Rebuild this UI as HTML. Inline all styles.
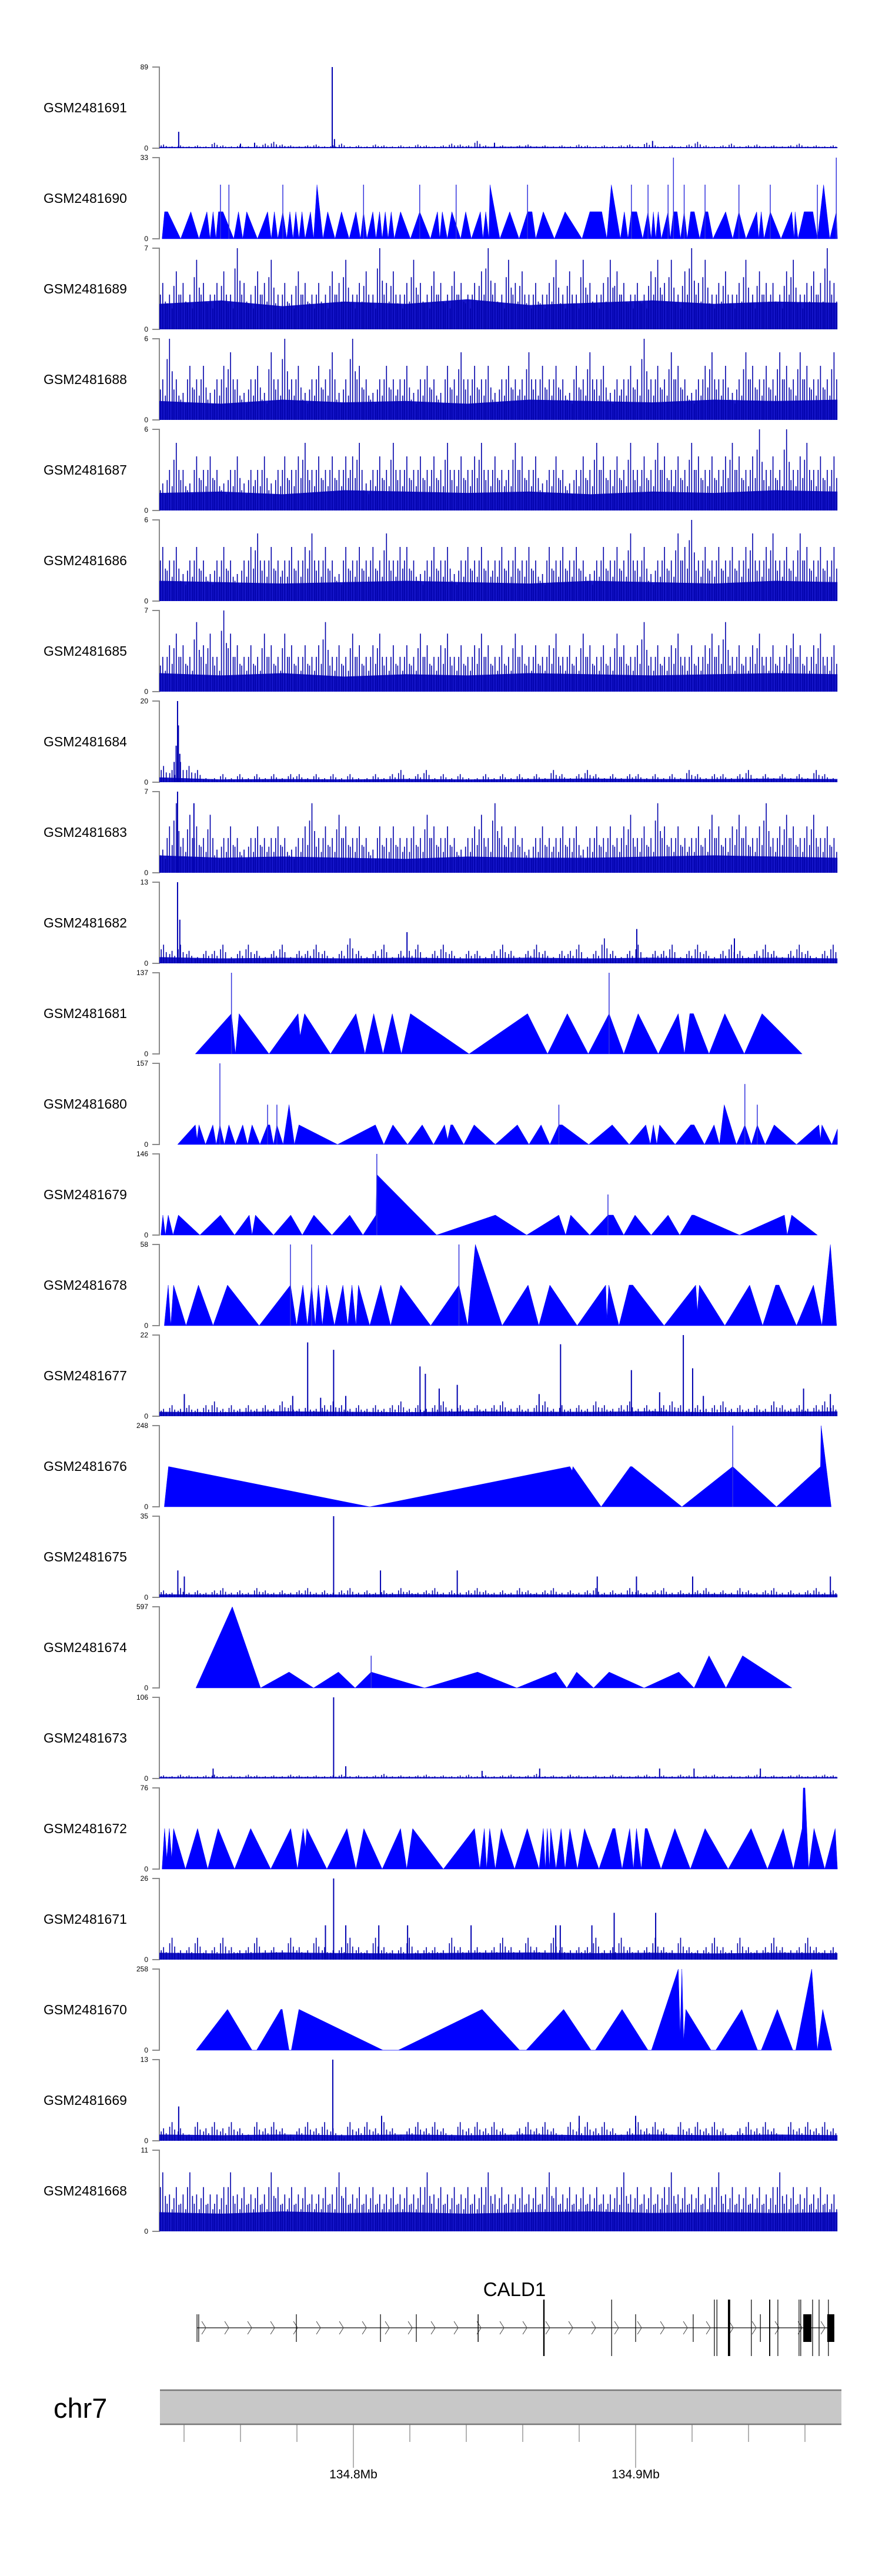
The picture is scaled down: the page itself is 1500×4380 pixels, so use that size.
<!DOCTYPE html>
<html><head><meta charset="utf-8"><title>CALD1 coverage tracks</title>
<style>
html,body{margin:0;padding:0;background:#fff;}
svg{display:block;font-family:"Liberation Sans",Arial,sans-serif;}
</style></head>
<body>
<svg id="chart" width="1500" height="4380" viewBox="0 0 1500 4380" xmlns="http://www.w3.org/2000/svg">
<rect x="0" y="0" width="1500" height="4380" fill="#fff"/>
<g id="tracks"></g>
<g id="gene"></g>
<g id="ideo"></g>
</svg>
<script>
// ---------- domain (kb offset from 134.7 Mb) ----------
const domainStart = 31.25;
const domainEnd = 271.5;
const axisTickKb = [40,60,80,100,120,140,160,180,200,220,240,260];
const axisMajorKb = [100,200];
const axisMajorLabels = ["134.8Mb","134.9Mb"];

// ---------- track names and maxima ----------
const trackNames = ["GSM2481691","GSM2481690","GSM2481689","GSM2481688","GSM2481687","GSM2481686","GSM2481685","GSM2481684","GSM2481683","GSM2481682","GSM2481681","GSM2481680","GSM2481679","GSM2481678","GSM2481677","GSM2481676","GSM2481675","GSM2481674","GSM2481673","GSM2481672","GSM2481671","GSM2481670","GSM2481669","GSM2481668"];
const trackMax = [89,33,7,6,6,6,7,20,7,13,137,157,146,58,22,248,35,597,106,76,26,258,13,11];

// ---------- noise-type tracks ----------
const t1691_base = [1.5,1.2,1.5,1.3,1.2,1.4,1.6,1.2,1.3,1.2,1.5,1.3];
const t1691_vals = [4,2,3,2,3,2,6,3,2,3,2,3,5,7,4,3,2,3,4,2,3,5,2,3,2,4,3,2,3,2,4,3,2,3,5,4,3,8,3,2,3,2,3,4,2,3,2,3,2,4,3,2,3,2,3,4,2,6,3,2,3,2,4,7,3,2,3,5,2,3,4,2,3,2,3,5,2,3,2,3];
const t1691_spikePos = [38.1,92.5,93.3,206,65,60,150];
const t1691_spikeVal = [18,89,10,8,6,5,6];

const t1689_base = [2.2,2.5,2.0,2.4,2.2,2.6,2.1,2.3,2.5,2.2,2.4,2.3];
const t1689_vals = [4,3,5,4,3,6,4,3,4,5,3,7,4,3,5,4,6,3,4,3,5,4,3,4,3,5,4,6,3,4,5,3,7,4,5,3,4,6,4,3,5,4,3,5,4,3,4,5,7,4,3,6,4,5,3,4,3,4,6,3,5,3,6,4,3,4,6,5,4,3,4,3,5,6,4,6,3,5,7,4,6,3,4,5,3,4,6,3,5,4,4,3,5,6,3,4,5,4,7,4];
const t1689_spikePos = [];
const t1689_spikeVal = [];

const t1688_base = [1.4,1.2,1.5,1.3,1.4,1.2,1.5,1.4,1.3,1.5,1.4,1.5];
const t1688_vals = [3,6,3,2,4,3,4,2,3,4,5,3,2,3,4,2,5,3,6,3,4,2,3,4,3,5,2,3,6,4,3,2,3,4,3,3,4,2,3,4,3,2,4,3,5,3,4,3,4,2,3,4,3,3,5,3,4,3,4,3,2,4,3,5,3,4,2,3,3,4,3,6,3,4,3,5,4,3,2,3,4,5,3,4,2,3,5,4,3,4,3,5,4,3,5,4,3,4,3,5];
const t1688_spikePos = [];
const t1688_spikeVal = [];

const t1687_base = [1.3,1.4,1.2,1.5,1.4,1.3,1.4,1.2,1.4,1.3,1.5,1.4];
const t1687_vals = [2,3,5,3,2,4,3,4,3,2,3,4,2,3,3,4,2,3,4,3,4,5,3,4,3,4,3,4,4,5,2,3,4,3,5,3,4,3,4,3,4,3,5,3,4,3,4,5,3,4,3,3,5,4,3,4,2,3,4,3,2,3,4,3,5,4,3,4,3,5,3,4,3,5,4,3,4,3,5,4,3,4,3,4,5,4,3,4,6,3,4,3,6,3,4,5,3,4,3,4];
const t1687_spikePos = [];
const t1687_spikeVal = [];

const t1686_base = [1.5,1.4,1.3,1.4,1.5,1.4,1.3,1.5,1.4,1.3,1.5,1.4];
const t1686_vals = [4,3,4,2,3,4,3,2,3,4,3,2,3,4,5,3,4,3,3,4,3,4,5,3,4,3,2,4,3,4,3,4,3,5,3,4,4,3,2,3,4,3,4,2,3,4,3,4,3,3,4,3,4,3,4,3,2,4,3,4,3,4,3,2,3,4,3,4,3,5,3,4,2,3,4,3,5,4,6,3,4,3,4,3,4,3,4,5,3,4,5,3,4,3,5,4,3,4,3,4];
const t1686_spikePos = [];
const t1686_spikeVal = [];

const t1685_base = [1.6,1.4,1.6,1.3,1.5,1.4,1.6,1.5,1.4,1.5,1.6,1.5];
const t1685_vals = [3,4,5,4,3,6,4,5,3,7,5,4,3,4,3,5,4,3,5,4,3,4,3,4,6,3,4,3,5,4,3,4,5,3,4,3,4,3,5,4,3,4,5,3,4,3,4,5,4,3,4,3,5,4,3,4,3,4,5,3,4,3,5,4,3,4,3,5,4,3,4,6,3,4,3,4,5,3,4,3,4,5,4,6,3,4,3,4,5,3,4,3,4,5,4,3,4,5,3,4];
const t1685_spikePos = [];
const t1685_spikeVal = [];

const t1684_base = [1.2,0.7,0.8,0.7,0.8,0.7,0.8,0.9,0.8,0.8,0.9,0.8];
const t1684_vals = [4,3,5,4,3,1,1,2,1,2,1,2,1,2,1,2,2,1,2,1,2,1,2,1,1,2,1,2,3,1,2,3,1,2,1,2,1,1,2,1,2,1,2,1,2,1,3,2,1,2,3,2,1,2,1,2,2,1,2,1,2,1,3,2,1,2,2,1,2,3,1,2,1,2,1,2,1,3,2,1];
const t1684_spikePos = [36.5,37.2,37.7,38.0,38.5];
const t1684_spikeVal = [5,9,20,14,7];

const t1683_base = [1.5,1.3,1.4,1.3,1.2,1.4,1.3,1.3,1.4,1.5,1.4,1.3];
const t1683_vals = [2,4,6,3,5,4,3,5,2,3,4,3,2,3,4,3,3,4,3,2,3,4,6,3,4,3,5,4,3,4,3,2,4,3,4,3,3,4,3,5,4,3,4,3,2,3,4,5,3,6,4,3,4,3,2,3,4,3,3,4,3,4,2,3,4,3,4,3,4,5,3,4,3,6,4,3,4,3,3,4,3,5,4,3,4,5,4,3,4,6,3,4,5,4,3,4,5,3,4,3];
const t1683_spikePos = [37.7,43.5];
const t1683_spikeVal = [7,6];

const t1682_base = [1.0,0.8,0.9,0.8,0.9,0.8,0.9,0.8,0.9,0.8,0.9,0.8];
const t1682_vals = [3,2,3,2,1,2,2,3,1,2,3,2,1,2,3,1,2,2,3,2,1,2,4,2,1,2,3,1,2,2,3,1,2,3,2,1,2,2,1,2,3,2,1,2,3,2,1,2,2,3,1,2,4,2,1,2,3,1,2,2,3,1,2,3,2,1,2,3,2,1,2,3,2,1,2,3,2,1,2,3];
const t1682_spikePos = [37.7,38.5,119,200.4,235];
const t1682_spikeVal = [13,7,5,5.5,4];

const t1677_base = [1.2,1.1,1.3,1.2,1.1,1.3,1.2,1.2,1.3,1.1,1.2,1.3];
const t1677_vals = [2,3,2,3,2,3,4,2,3,2,3,2,3,2,4,3,2,3,2,3,4,3,2,3,2,3,2,3,4,2,3,2,3,4,2,3,2,3,2,3,4,2,3,2,3,4,2,3,2,3,2,4,3,2,3,4,2,3,2,3,4,3,2,3,2,3,4,2,3,2,3,2,4,3,2,3,2,3,4,3];
const t1677_spikePos = [40.1,78.5,83.8,88.4,93.0,97.3,123.6,125.5,130.4,136.8,165.8,173.4,198.5,208.5,216.9,220.2,224.0,259.5,269.0];
const t1677_spikeVal = [6,5.5,20,5,18,5.5,13.5,11.5,7.5,8.5,6,19.5,12.5,6.5,22,13,5.5,7.5,6];

const t1675_base = [1.3,1.2,1.3,1.2,1.4,1.2,1.3,1.2,1.3,1.4,1.2,1.3];
const t1675_vals = [3,2,4,2,3,2,3,4,2,3,2,4,3,2,3,2,3,4,2,3,2,3,4,2,3,2,3,2,4,3,2,3,4,2,3,2,3,4,3,2,3,2,4,3,2,3,4,2,3,2,3,4,2,3,2,4,3,2,3,4,2,3,2,3,4,2,3,2,4,3,2,3,4,2,3,2,3,4,2,3];
const t1675_spikePos = [37.8,40.1,93.0,109.6,136.8,186.4,200.3,220.2,269.0];
const t1675_spikeVal = [11.6,9,35,11.6,11.6,9,9,9,9];

const t1673_base = [2.0,1.8,2.0,1.9,2.0,1.8,2.0,1.9,2.0,1.9,2.0,1.9];
const t1673_vals = [4,3,5,4,3,4,5,3,4,3,5,4,3,4,3,5,4,3,4,3,4,5,3,4,3,4,6,3,4,3,4,5,3,4,3,4,5,3,4,3,4,5,3,4,6,3,4,3,5,4,3,4,3,5,4,3,4,5,3,4,3,5,4,3,4,5,3,4,3,4,5,3,4,3,4,5,3,4,5,4];
const t1673_spikePos = [93.0,50.3,97.3,145.6,166.0,208.5,220.7,244.2];
const t1673_spikeVal = [106,13,16,10,13,13,13,13];

const t1671_base = [2.2,2.0,2.3,2.1,2.0,2.2,2.3,2.1,2.2,2.0,2.2,2.1];
const t1671_vals = [4,7,3,4,7,3,4,7,4,3,4,7,3,4,3,7,4,3,7,4,3,4,7,4,3,7,4,3,4,7,3,4,4,3,7,4,3,4,3,4,7,4,3,7,4,3,7,4,3,4,4,7,3,4,7,4,3,4,7,4,3,7,4,3,4,7,4,3,7,4,3,4,7,4,3,4,7,4,3,4];
const t1671_spikePos = [93.0,90.1,97.3,109.0,119.2,141.7,171.7,173.3,184.5,192.4,207.1];
const t1671_spikeVal = [26,11,11,11,11,11,11,11,11,15,15];

const t1669_base = [1.0,0.9,1.0,0.9,1.0,0.9,1.0,0.9,1.0,0.9,1.0,0.9];
const t1669_vals = [2,3,2,1,3,2,3,2,3,2,1,3,2,3,2,1,2,3,2,3,2,1,3,2,3,2,3,2,1,2,3,2,3,2,1,3,2,3,2,3,2,1,2,3,2,3,2,1,3,2,3,2,3,2,1,2,3,2,3,2,1,3,2,3,2,3,2,1,2,3,2,3,2,1,3,2,3,2,3,2];
const t1669_spikePos = [38.1,92.7,110,180,200];
const t1669_spikeVal = [5.5,13,4,4,4];

const t1668_base = [2.6,2.4,2.7,2.5,2.6,2.4,2.6,2.7,2.5,2.6,2.5,2.6];
const t1668_vals = [8,5,6,5,8,5,6,5,5,6,8,5,6,5,6,5,8,6,5,6,5,6,5,5,6,5,8,6,5,6,5,6,5,5,6,5,6,5,6,8,5,6,5,6,5,6,5,6,8,5,6,5,5,6,5,6,5,8,6,5,6,5,6,5,6,5,5,6,8,5,6,5,6,5,6,8,5,6,5,6,5,6,8,5,6,5,6,5,6,5,6,8,5,6,5,6,5,6,5,5];
const t1668_spikePos = [];
const t1668_spikeVal = [];

// ---------- triangle-type tracks (vertex positions in kb, values) ----------
const t1690_pos = [32.2,33.1,34.2,38.8,42.4,45.3,48.1,49.2,50.3,51.3,52.2,53.8,57.6,59.3,60.8,62.2,66.0,69.6,70.9,72.0,73.2,75.0,76.4,77.5,78.6,79.6,80.7,81.8,82.9,84.8,85.9,87.1,89.2,90.9,93.5,95.8,98.5,100.9,102.5,103.6,104.8,106.9,108.0,109.3,110.2,111.3,112.3,113.4,114.5,116.7,120.2,123.5,127.3,129.8,130.6,131.5,133.3,134.9,138.0,139.8,141.8,145.0,145.9,146.9,148.0,148.4,151.9,155.4,158.7,161.7,163.3,164.6,167.3,171.2,175.0,181.0,183.8,188.0,189.8,191.4,194.6,196.0,197.3,198.5,200.4,202.5,204.4,205.5,206.3,207.1,208.0,209.1,211.5,212.3,213.4,214.7,215.9,217.2,218.3,219.5,220.8,222.7,224.6,225.6,227.4,231.9,234.4,236.6,239.1,242.9,243.6,244.5,245.5,247.7,251.5,255.3,256.2,256.5,257.5,259.7,262.8,264.4,266.6,268.8,271.1,271.5];
const t1690_val = [0,11,11,0,11,0,11,0,11,0,11,11,0,11,0,11,0,11,0,11,0,11,0,11,0,11,0,11,0,11,0,22,0,11,0,11,0,11,0,11,0,11,0,11,0,11,0,11,0,11,0,11,0,11,0,11,0,11,0,11,0,11,0,11,0,22,0,11,0,11,11,0,11,0,11,0,11,11,0,22,0,11,0,11,11,0,11,0,11,0,11,0,11,0,11,11,0,11,0,11,11,0,11,11,0,11,0,11,0,11,0,11,0,11,0,11,0,11,0,11,11,0,22,0,11,0];
const t1690_spikePos = [52.9,55.9,75.0,103.6,123.5,136.4,161.7,198.5,204.4,211.5,213.4,217.2,224.6,236.6,247.7,264.4,271.1];
const t1690_spikeVal = [22,22,22,22,22,22,22,22,22,22,33,22,22,22,22,22,33];

const t1681_pos = [44.0,56.8,58.2,59.5,70.1,80.4,81.1,82.7,91.9,100.9,104.1,107.2,110.5,113.8,117.0,120.2,141.0,161.7,168.8,175.8,183.2,190.6,195.8,200.9,208.0,215.1,217.3,219.2,220.5,226.0,231.6,238.5,244.8,259.0];
const t1681_val = [0,68,0,68,0,68,30,68,0,68,0,68,0,68,0,68,0,68,0,68,0,68,0,68,0,68,0,68,68,0,68,0,68,0];
const t1681_spikePos = [56.8,190.6];
const t1681_spikeVal = [137,137];

const t1680_pos = [37.7,44.0,44.6,45.3,47.6,50.2,51.4,52.7,54.3,55.9,58.2,60.8,62.5,64.1,66.9,69.6,70.4,71.7,72.9,75.1,77.2,79.1,80.7,94.4,107.8,110.8,114.0,119.2,124.4,128.4,132.3,133.4,134.5,135.2,139.1,142.8,150.3,158.1,162.2,166.5,169.6,172.8,174.0,183.4,191.7,197.7,203.6,205.2,206.3,207.5,208.5,214.0,219.5,220.7,224.4,227.8,229.7,231.4,235.7,238.7,241.0,243.1,245.9,249.1,257.0,264.9,265.5,266.0,269.5,271.5];
const t1680_val = [0,38,10,38,0,38,0,38,0,38,0,38,0,38,0,38,38,0,38,0,77,0,38,0,38,0,38,0,38,0,38,10,38,38,0,38,0,38,0,38,0,38,38,0,38,0,38,0,38,0,38,0,38,38,0,38,0,77,0,38,0,38,0,38,0,38,10,38,0,30];
const t1680_spikePos = [52.7,69.6,72.9,172.8,238.7,243.1];
const t1680_spikeVal = [157,77,77,77,117,77];

const t1679_pos = [31.8,32.5,33.4,34.4,36.1,38.0,45.6,52.9,57.9,63.1,64.1,65.3,71.7,77.8,81.9,86.0,92.4,98.7,103.4,108.0,108.3,129.5,150.3,161.4,172.8,175.2,177.0,183.7,190.2,192.1,195.8,199.8,205.5,211.5,215.6,219.9,220.7,236.8,252.7,253.7,255.3,264.4];
const t1679_val = [0,36,0,36,0,36,0,36,0,36,0,36,0,36,0,36,0,36,0,36,109,0,36,0,36,0,36,0,36,36,0,36,0,36,0,36,36,0,36,0,36,0];
const t1679_spikePos = [108.3,190.2];
const t1679_spikeVal = [146,73];

const t1678_pos = [33.0,34.4,35.3,36.3,40.7,45.1,50.3,55.4,66.6,77.7,79.9,82.1,83.7,85.2,86.5,87.6,89.0,90.5,93.3,96.3,98.0,99.5,100.9,101.8,105.8,109.7,113.2,116.8,127.4,137.4,140.5,143.2,152.7,161.9,165.7,169.6,179.3,189.4,189.8,190.5,194.1,197.7,199.0,210.1,221.3,221.9,222.6,231.6,240.4,245.0,249.6,250.8,257.0,263.0,266.0,269.0,271.2];
const t1678_val = [0,29,0,29,0,29,0,29,0,29,0,29,0,29,0,29,0,29,0,29,0,29,0,29,0,29,0,29,0,29,0,58,0,29,0,29,0,29,5,29,0,29,29,0,29,10,29,0,29,0,29,29,0,29,0,58,0];
const t1678_spikePos = [77.7,85.2,137.4];
const t1678_spikeVal = [58,58,58];

const t1676_pos = [33.0,34.5,105.8,176.7,177.5,177.8,187.8,198.1,198.7,216.4,234.4,249.9,265.5,265.7,269.3];
const t1676_val = [0,123,0,123,110,123,0,123,123,0,123,0,123,248,0];
const t1676_spikePos = [234.4];
const t1676_spikeVal = [248];

const t1674_pos = [44.2,57.1,67.1,77.2,85.9,94.7,100.6,106.3,125.2,144.0,157.9,171.7,175.6,179.1,185.1,190.6,203.0,215.3,220.7,226.0,232.0,237.9,255.4];
const t1674_val = [0,597,0,117,0,117,0,117,0,117,0,117,0,117,0,117,0,117,0,237,0,237,0];
const t1674_spikePos = [106.3];
const t1674_spikeVal = [237];

const t1672_pos = [32.2,33.1,33.9,34.8,35.6,36.3,40.5,44.8,48.4,52.1,57.9,63.6,70.7,77.8,80.2,82.2,83.0,83.5,90.6,97.7,100.9,103.7,110.2,116.7,118.9,121.0,131.9,142.9,144.8,146.4,147.2,148.3,150.3,152.4,157.1,161.6,165.8,167.3,168.0,168.7,169.5,169.9,171.8,173.6,175.0,176.7,179.4,181.9,187.0,191.9,192.7,195.2,197.9,199.2,200.3,202.0,203.4,204.1,209.0,213.9,219.4,224.6,232.8,240.9,246.7,252.3,255.9,259.0,259.4,260.0,261.3,263.2,267.0,270.7,272.0];
const t1672_val = [0,38,10,38,10,38,0,38,0,38,0,38,0,38,0,38,20,38,0,38,0,38,0,38,0,38,0,38,0,38,0,38,0,38,0,38,0,38,0,38,0,38,0,38,0,38,0,38,0,38,38,0,38,0,38,0,38,38,0,38,0,38,0,38,0,38,0,38,76,76,0,38,0,38,0];
const t1672_spikePos = [];
const t1672_spikeVal = [];

const t1670_pos = [44.3,55.4,64.1,65.7,74.3,74.8,77.2,78.0,80.7,110.5,115.9,145.6,158.9,161.2,174.5,184.2,185.7,195.2,204.4,205.6,215.1,215.8,216.4,217.0,217.8,226.7,228.4,237.6,243.2,244.5,250.2,255.7,256.7,262.4,264.4,266.3,269.5];
const t1670_val = [0,130,0,0,130,130,0,0,130,0,0,130,0,0,130,0,0,130,0,0,258,50,258,30,130,0,0,130,0,0,130,0,0,258,0,130,0];
const t1670_spikePos = [];
const t1670_spikeVal = [];

// ---------- gene model (CALD1), exon positions in kb ----------
const geneStartKb = 44.6;
const geneEndKb = 270.4;
const exonKb = [44.6,45.2,79.8,109.6,122.3,144.2,167.5,191.5,200.0,220.4,227.9,228.8,233.1,241.0,244.2,247.5,250.4,257.9,258.5,262.7,265.0,268.3];
const exonTall = [0,0,0,0,0,0,1,1,0,0,1,1,1,1,0,1,1,1,1,1,1,1];
const exonWidthKb = [0.2,0.2,0.25,0.2,0.2,0.3,0.5,0.25,0.25,0.2,0.2,0.2,0.8,0.2,0.2,0.4,0.25,0.2,0.2,0.2,0.2,0.2];
const blockStartKb = [259.4,267.9];
const blockEndKb = [262.3,270.4];

// ---------- rendering ----------
const NS = "http://www.w3.org/2000/svg";
function xs(kb){ return 601 + (kb - 100) * 4.8; }
const X0 = xs(domainStart), X1 = xs(domainEnd);
function mk(tag, attrs, parent){
  const e = document.createElementNS(NS, tag);
  for (const k in attrs) e.setAttribute(k, attrs[k]);
  parent.appendChild(e);
  return e;
}
const tracksG = document.getElementById('tracks');

const noiseData = {
  "GSM2481691":[t1691_base,t1691_vals,t1691_spikePos,t1691_spikeVal],
  "GSM2481689":[t1689_base,t1689_vals,t1689_spikePos,t1689_spikeVal],
  "GSM2481688":[t1688_base,t1688_vals,t1688_spikePos,t1688_spikeVal],
  "GSM2481687":[t1687_base,t1687_vals,t1687_spikePos,t1687_spikeVal],
  "GSM2481686":[t1686_base,t1686_vals,t1686_spikePos,t1686_spikeVal],
  "GSM2481685":[t1685_base,t1685_vals,t1685_spikePos,t1685_spikeVal],
  "GSM2481684":[t1684_base,t1684_vals,t1684_spikePos,t1684_spikeVal],
  "GSM2481683":[t1683_base,t1683_vals,t1683_spikePos,t1683_spikeVal],
  "GSM2481682":[t1682_base,t1682_vals,t1682_spikePos,t1682_spikeVal],
  "GSM2481677":[t1677_base,t1677_vals,t1677_spikePos,t1677_spikeVal],
  "GSM2481675":[t1675_base,t1675_vals,t1675_spikePos,t1675_spikeVal],
  "GSM2481673":[t1673_base,t1673_vals,t1673_spikePos,t1673_spikeVal],
  "GSM2481671":[t1671_base,t1671_vals,t1671_spikePos,t1671_spikeVal],
  "GSM2481669":[t1669_base,t1669_vals,t1669_spikePos,t1669_spikeVal],
  "GSM2481668":[t1668_base,t1668_vals,t1668_spikePos,t1668_spikeVal]
};
const triData = {
  "GSM2481690":[t1690_pos,t1690_val,t1690_spikePos,t1690_spikeVal],
  "GSM2481681":[t1681_pos,t1681_val,t1681_spikePos,t1681_spikeVal],
  "GSM2481680":[t1680_pos,t1680_val,t1680_spikePos,t1680_spikeVal],
  "GSM2481679":[t1679_pos,t1679_val,t1679_spikePos,t1679_spikeVal],
  "GSM2481678":[t1678_pos,t1678_val,t1678_spikePos,t1678_spikeVal],
  "GSM2481676":[t1676_pos,t1676_val,t1676_spikePos,t1676_spikeVal],
  "GSM2481674":[t1674_pos,t1674_val,t1674_spikePos,t1674_spikeVal],
  "GSM2481672":[t1672_pos,t1672_val,t1672_spikePos,t1672_spikeVal],
  "GSM2481670":[t1670_pos,t1670_val,t1670_spikePos,t1670_spikeVal]
};

trackNames.forEach(function(name, i){
  const top = 114 + 154 * i, bottom = top + 138, h = 138, max = trackMax[i];
  const ys = function(v){ return bottom - Math.min(v, max) / max * h; };
  const g = mk('g', {}, tracksG);
  
  

  const lab = mk('text', {x:74, y:(top+bottom)/2 + 8, 'font-size':23, fill:'#000'}, g);
  
  
  lab.textContent = name;

  const ax = mk('path', {d:'M259,'+top+'H271V'+bottom+'H259', fill:'none', stroke:'#8a8a8a', 'stroke-width':2}, g);
  
  
  const tMax = mk('text', {x:252, y:top+4, 'font-size':12, 'text-anchor':'end', fill:'#000'}, g);
  
  
  tMax.textContent = String(max);
  const tMin = mk('text', {x:252, y:bottom+4, 'font-size':12, 'text-anchor':'end', fill:'#000'}, g);
  
  
  tMin.textContent = '0';

  if (triData[name]) {
    const d = triData[name], pos = d[0], val = d[1];
    let p = 'M' + xs(pos[0]).toFixed(1) + ',' + bottom;
    for (let k = 0; k < pos.length; k++) p += 'L' + Math.min(xs(pos[k]), X1).toFixed(1) + ',' + ys(val[k]).toFixed(1);
    p += 'L' + Math.min(xs(pos[pos.length-1]), X1).toFixed(1) + ',' + bottom + 'Z';
    const area = mk('path', {d:p, fill:'#0000ff', stroke:'#0000ff', 'stroke-width':0.5}, g);
    
    
    for (let k = 0; k < d[2].length; k++) {
      const x = xs(d[2][k]);
      const s = mk('line', {x1:x, x2:x, y1:bottom, y2:ys(d[3][k]), stroke:'#3333dd', 'stroke-width':1.5}, g);
      
      
    }
  } else {
    const d = noiseData[name], base = d[0], vals = d[1];
    let p = 'M' + X0 + ',' + bottom;
    for (let k = 0; k < base.length; k++) {
      const kb = domainStart + (domainEnd - domainStart) * k / (base.length - 1);
      p += 'L' + xs(kb).toFixed(1) + ',' + ys(base[k]).toFixed(1);
    }
    p += 'L' + X1 + ',' + bottom + 'Z';
    const fl = mk('path', {d:p, fill:'#1414c8'}, g);
    
    
    let bp = '';
    const step = (domainEnd - domainStart) / vals.length;
    for (let k = 0; k < vals.length; k++) {
      const x = xs(domainStart + step * (k + 0.5));
      bp += 'M' + x.toFixed(1) + ',' + bottom + 'V' + ys(vals[k]).toFixed(1);
      bp += 'M' + (x + 4.5).toFixed(1) + ',' + bottom + 'V' + ys(vals[k] * 0.6).toFixed(1);
      bp += 'M' + (x - 4).toFixed(1) + ',' + bottom + 'V' + ys(vals[k] * 0.75).toFixed(1);
    }
    const bars = mk('path', {d:bp, fill:'none', stroke:'#0000aa', 'stroke-width':1.6}, g);
    
    
    for (let k = 0; k < d[2].length; k++) {
      const x = xs(d[2][k]);
      const s = mk('line', {x1:x, x2:x, y1:bottom, y2:ys(d[3][k]), stroke:'#0000b0', 'stroke-width':2}, g);
      
      
    }
  }
});

// ---------- gene track ----------
const geneG = document.getElementById('gene');
const gl = mk('text', {x:875, y:3904, 'font-size':33, 'text-anchor':'middle', fill:'#000'}, geneG);


gl.textContent = 'CALD1';
const gline = mk('line', {x1:xs(geneStartKb), x2:xs(geneEndKb), y1:3958, y2:3958, stroke:'#333', 'stroke-width':1.5}, geneG);


let chev = '';
for (let x = xs(geneStartKb) + 8; x < xs(geneEndKb) - 8; x += 39) {
  chev += 'M' + x.toFixed(1) + ',3947L' + (x + 7).toFixed(1) + ',3958L' + x.toFixed(1) + ',3969';
}
const ch = mk('path', {d:chev, fill:'none', stroke:'#444', 'stroke-width':1}, geneG);


for (let k = 0; k < exonKb.length; k++) {
  const x = xs(exonKb[k]), w = Math.max(1.2, exonWidthKb[k] * 4.8);
  const y0 = exonTall[k] ? 3910 : 3935, y1 = exonTall[k] ? 4006 : 3982;
  const r = mk('rect', {x:x - w/2, y:y0, width:w, height:y1 - y0, fill:'#000'}, geneG);
  
  
}
for (let k = 0; k < blockStartKb.length; k++) {
  const r = mk('rect', {x:xs(blockStartKb[k]), y:3935, width:xs(blockEndKb[k]) - xs(blockStartKb[k]), height:47, fill:'#000'}, geneG);
  
  
}

// ---------- chromosome ideogram & axis ----------
const ideoG = document.getElementById('ideo');
const cl = mk('text', {x:91, y:4111, 'font-size':47, fill:'#000'}, ideoG);


cl.textContent = 'chr7';
const ib = mk('rect', {x:272, y:4064, width:1159, height:58, fill:'#c8c8c8'}, ideoG);


const it = mk('line', {x1:272, x2:1431, y1:4064, y2:4064, stroke:'#777', 'stroke-width':2.5}, ideoG);


const ibt = mk('line', {x1:272, x2:1431, y1:4122, y2:4122, stroke:'#777', 'stroke-width':2.5}, ideoG);


axisTickKb.forEach(function(kb){
  const x = xs(kb);
  const major = axisMajorKb.indexOf(kb) >= 0;
  const t = mk('line', {x1:x, x2:x, y1:4123, y2:major ? 4196 : 4152, stroke:'#666', 'stroke-width':1}, ideoG);
  
  
});
axisMajorKb.forEach(function(kb, k){
  const t = mk('text', {x:xs(kb), y:4214, 'font-size':21, 'text-anchor':'middle', fill:'#000'}, ideoG);
  
  
  t.textContent = axisMajorLabels[k];
});
</script>
</body></html>
